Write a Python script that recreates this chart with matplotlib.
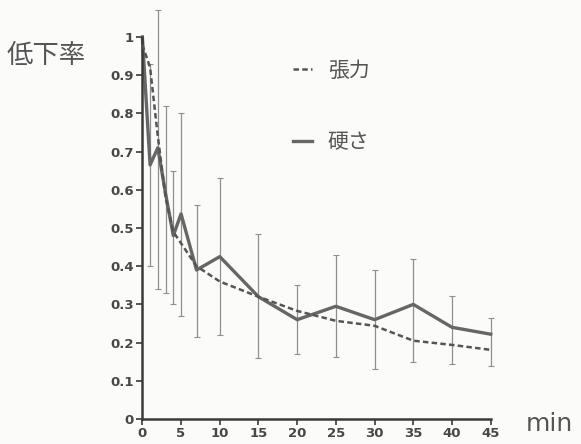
import matplotlib

matplotlib.use("Agg")
import matplotlib.pyplot as plt

# 時間 (min)
minutes = [0, 1, 2, 3, 4, 5, 7, 10, 15, 20, 25, 30, 35, 40, 45]
# 張力の低下率
tension = [0.98, 0.92, 0.74, 0.58, 0.49, 0.46, 0.40, 0.36, 0.32, 0.283, 0.257, 0.244, 0.205, 0.194, 0.181]
# 硬さの低下率
hardness = [1.0, 0.665, 0.71, 0.59, 0.48, 0.537, 0.39, 0.425, 0.32, 0.26, 0.295, 0.26, 0.30, 0.24, 0.222]
# 硬さのばらつき (上端・下端)
hard_hi = [1.0, 0.93, 1.07, 0.82, 0.65, 0.80, 0.56, 0.63, 0.485, 0.35, 0.43, 0.39, 0.42, 0.323, 0.264]
hard_lo = [1.0, 0.40, 0.34, 0.33, 0.30, 0.27, 0.215, 0.22, 0.16, 0.17, 0.163, 0.13, 0.148, 0.143, 0.14]

x_ticks = [0, 5, 10, 15, 20, 25, 30, 35, 40, 45]
y_ticks = [0, 0.1, 0.2, 0.3, 0.4, 0.5, 0.6, 0.7, 0.8, 0.9, 1]
y_labels = ["0", "0.1", "0.2", "0.3", "0.4", "0.5", "0.6", "0.7", "0.8", "0.9", "1"]

JP = ["Noto Sans CJK JP", "DejaVu Sans"]
NUM = "DejaVu Sans"
INK = "#474747"
BG = "#fbfbfa"

fig = plt.figure(figsize=(5.81, 4.44), dpi=100, facecolor=BG)
ax = fig.add_axes([0.245, 0.0563, 0.5996, 0.8604], facecolor=BG)

# ばらつきは硬さの系列に付ける (t=0 は基準値なので無し)
err_lo = [h - lo for h, lo in zip(hardness, hard_lo)]
err_hi = [hi - h for h, hi in zip(hardness, hard_hi)]
ax.errorbar(minutes[1:], hardness[1:], yerr=[err_lo[1:], err_hi[1:]], fmt="none",
            ecolor="#8f8f8f", elinewidth=0.9, capsize=2, capthick=0.8, clip_on=False, zorder=1)

l_ten, = ax.plot(minutes, tension, color="#555555", linewidth=1.8, linestyle=(0, (2.2, 1.3)),
                 clip_on=False, zorder=3, label="張力")
l_hard, = ax.plot(minutes, hardness, color="#666666", linewidth=2.4, clip_on=False, zorder=2,
                  label="硬さ")

ax.set_xlim(0, 45)
ax.set_ylim(0, 1)
for side in ["top", "right"]:
    ax.spines[side].set_visible(False)
for side in ["left", "bottom"]:
    ax.spines[side].set_color("#3a3a3a")
    ax.spines[side].set_linewidth(1.8)

ax.set_xticks(x_ticks)
ax.set_xticklabels([str(t) for t in x_ticks], fontfamily=NUM, fontweight="bold",
                   fontsize=9.5, color=INK)
ax.set_yticks(y_ticks)
ax.set_yticklabels(y_labels, fontfamily=NUM, fontweight="bold", fontsize=9.5, color=INK)
ax.tick_params(axis="both", direction="out", length=4, width=1.2, color="#3a3a3a", pad=2)

fig.text(0.012, 0.876, "低下率", family=JP, fontsize=19, color="#555555", va="center")
fig.text(0.905, 0.029, "min", fontfamily=NUM, fontsize=18, color="#555555", va="baseline")

ax.legend(handles=[l_ten, l_hard], prop={"family": JP, "size": 15}, labelcolor="#555555",
          frameon=False, handlelength=0.9, handletextpad=0.77, labelspacing=2.4,
          loc="upper left", bbox_to_anchor=(0.378, 0.99))

fig.savefig("out.png", dpi=100, facecolor=BG)
